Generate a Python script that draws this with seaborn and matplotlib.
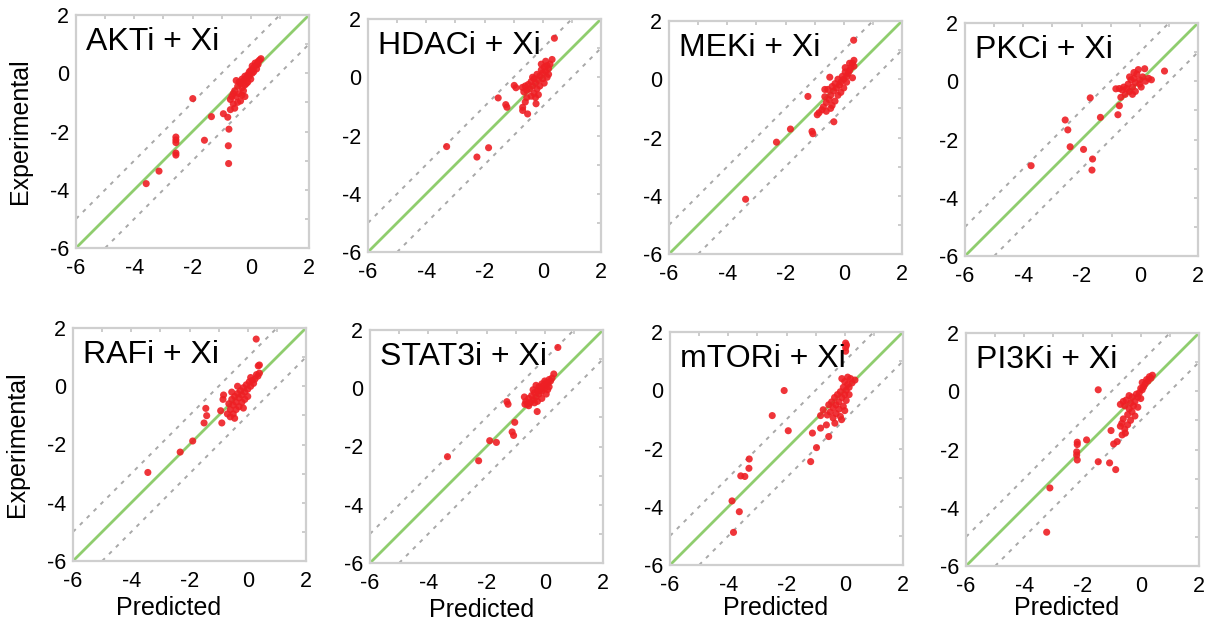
import numpy as np
import pandas as pd
import matplotlib
matplotlib.use("Agg")
import matplotlib.pyplot as plt
import seaborn as sns

# ---------------- data ----------------
titles = ["AKTi + Xi", "HDACi + Xi", "MEKi + Xi", "PKCi + Xi",
          "RAFi + Xi", "STAT3i + Xi", "mTORi + Xi", "PI3Ki + Xi"]

akt_x = [-3.59, -3.15, -2.57, -2.57, -2.57, -2.57, -2.57, -1.99, -1.59, -1.35, -0.94, -0.79, -0.75, -0.77, -0.76,
         0.35, 0.30, 0.25, 0.20, 0.15, 0.10, 0.05, 0.0, 0.05, -0.05, -0.10, -0.15, -0.20, -0.25, -0.30, -0.35,
         -0.40, -0.45, -0.50, -0.30, -0.20, -0.10, 0.0, -0.55, -0.60, -0.65, -0.70, -0.50, -0.40, -0.30, -0.25,
         -0.45, -0.60, -0.70, -0.55, -0.35, -0.20, 0.10, 0.20, -0.05, -0.15, 0.25]
akt_y = [-3.79, -3.36, -2.19, -2.29, -2.38, -2.74, -2.81, -0.87, -2.30, -1.49, -1.39, -1.51, -1.92, -2.49, -3.10,
         0.50, 0.45, 0.40, 0.30, 0.35, 0.20, 0.25, 0.10, 0.0, 0.05, -0.05, -0.15, -0.10, -0.25, -0.20, -0.35,
         -0.30, -0.45, -0.25, -0.50, -0.40, -0.30, -0.20, -0.60, -0.70, -0.80, -0.90, -0.80, -0.70, -0.75, -0.60,
         -1.00, -1.05, -1.25, -1.20, -0.95, -0.80, 0.05, 0.15, -0.10, -0.35, 0.30]

hdac_x = [0.40, 0.32, -3.30, -2.26, -1.86, -1.53, -1.27, -1.23, -0.98, -0.92, -0.52, -0.23, -0.69, -0.69,
          0.25, 0.20, 0.15, 0.10, 0.05, 0.0, -0.05, 0.0, -0.10, -0.15, -0.20, -0.25, -0.30, -0.35, -0.40, -0.45,
          -0.50, -0.55, -0.60, -0.65, -0.70, -0.20, -0.10, 0.05, 0.15, -0.30, -0.40, -0.55, -0.60, -0.15, -0.05,
          0.10, -0.35, 0.20, -0.25]
hdac_y = [1.34, 0.61, -2.38, -2.74, -2.42, -0.71, -0.94, -1.03, -0.28, -0.36, -1.26, -0.91, -1.03, -1.14,
          0.45, 0.30, 0.40, 0.20, 0.35, 0.15, 0.25, -0.05, 0.05, -0.10, 0.10, -0.20, -0.05, -0.30, -0.15, -0.40,
          -0.25, -0.45, -0.30, -0.50, -0.35, -0.40, -0.30, -0.20, 0.0, -0.55, -0.65, -0.70, -0.85, -0.60, 0.45,
          0.55, 0.00, 0.10, -0.70]

mek_x = [0.34, -3.37, -2.31, -1.83, -1.23, -1.09, -1.06, -0.48, -0.34, -0.91,
         0.35, 0.30, 0.35, 0.25, 0.20, 0.30, 0.15, 0.10, 0.05, 0.0, -0.05, -0.10, -0.15, -0.20, -0.25, -0.30,
         -0.35, -0.40, -0.45, -0.55, -0.50, -0.60, -0.65, -0.70, -0.75, -0.85, -0.60, -0.40, -0.30, -0.20, -0.10,
         0.0, 0.10, -0.45, -0.65, 0.20, 0.05]
mek_y = [1.34, -4.12, -2.16, -1.71, -0.59, -1.79, -1.87, 0.07, -1.46, -1.22,
         0.65, 0.55, 0.45, 0.40, 0.30, 0.05, 0.20, 0.10, 0.25, 0.0, 0.10, -0.10, -0.20, 0.0, -0.30, -0.15,
         -0.40, -0.25, -0.55, -0.35, -0.70, -0.80, -0.60, -0.95, -1.05, -1.15, -1.10, -0.90, -0.75, -0.55, -0.45,
         -0.30, -0.10, -1.00, -0.35, 0.55, 0.40]

pkc_x = [0.85, 0.17, -3.73, -2.56, -2.47, -2.39, -1.93, -1.62, -1.64, -1.70, -1.35, -0.75, -0.70, -0.82,
         0.40, 0.30, 0.20, 0.10, 0.0, 0.0, -0.10, -0.15, -0.20, -0.25, -0.30, -0.35, -0.40, -0.45, -0.50,
         -0.55, -0.60, -0.65, -0.25, -0.15, 0.05, -0.05, -0.20, -0.70, -0.35]
pkc_y = [0.35, 0.43, -2.90, -1.33, -1.67, -2.25, -2.34, -2.67, -3.05, -0.57, -1.24, -1.15, -0.84, -0.26,
         0.05, 0.10, 0.0, 0.15, 0.05, -0.10, 0.25, -0.05, 0.10, -0.20, 0.05, -0.35, -0.10, -0.25, -0.45,
         -0.20, -0.30, -0.55, -0.45, -0.35, -0.20, 0.40, 0.30, -0.25, 0.15]

raf_x = [0.29, 0.40, 0.36, -3.43, -2.32, -1.89, -1.44, -1.41, -1.50, -0.83, -0.85, -0.93, -0.89,
         0.40, 0.35, 0.30, 0.25, 0.20, 0.15, 0.10, 0.05, 0.0, -0.05, -0.10, -0.15, -0.20, -0.25, -0.30, -0.35,
         -0.40, -0.45, -0.50, -0.55, -0.60, -0.65, -0.70, -0.60, -0.50, -0.40, -0.30, -0.20, -0.10, 0.0, -0.45,
         -0.55, -0.35, 0.10, -0.15]
raf_y = [1.62, 0.73, 0.70, -2.96, -2.26, -1.88, -0.76, -1.01, -1.26, -0.30, -0.45, -0.84, -1.26,
         0.45, 0.35, 0.40, 0.25, 0.10, 0.20, 0.0, 0.15, -0.10, 0.05, -0.20, -0.05, -0.30, -0.15, -0.40, -0.25,
         -0.55, -0.35, -0.65, -0.45, -0.80, -0.60, -0.95, -1.05, -0.95, -0.80, -0.70, -0.55, -0.45, -0.35, -1.10,
         -0.20, 0.0, 0.30, -0.75]

stat_x = [0.45, 0.31, -3.34, -2.27, -1.89, -1.66, -1.12, -1.07, -1.03, -1.30, -1.26, -0.26, -0.68,
          0.25, 0.20, 0.15, 0.10, 0.05, 0.0, 0.0, -0.05, -0.10, -0.10, -0.15, -0.20, -0.20, -0.25, -0.30, -0.35,
          -0.40, -0.45, -0.50, -0.55, -0.60, -0.65, -0.70, -0.35, -0.25, -0.10, 0.05, 0.10, -0.40, -0.55, -0.30,
          0.15]
stat_y = [1.40, 0.49, -2.35, -2.49, -1.80, -1.86, -1.50, -1.62, -1.17, -0.46, -0.55, -0.80, -0.55,
          0.35, 0.25, 0.30, 0.15, 0.20, 0.0, 0.25, 0.10, -0.10, 0.15, -0.05, -0.20, 0.05, -0.10, -0.30, -0.15,
          -0.40, -0.25, -0.50, -0.35, -0.55, -0.45, -0.30, -0.50, -0.45, -0.35, -0.20, -0.05, -0.05, -0.60, 0.10,
          0.05]

mtor_x = [0.03, 0.03, 0.03, 0.06, -2.08, -2.49, -1.94, -3.28, -3.29, -3.57, -3.43, -3.87, -3.62, -3.82,
          -1.17, -0.97, -1.11, -0.83, -0.55, -0.83, -0.74, -0.63, -0.34, -0.11,
          0.35, 0.25, 0.20, 0.15, 0.10, 0.05, 0.0, 0.0, -0.05, -0.10, -0.15, -0.20, -0.25, -0.30, -0.35, -0.40,
          -0.45, -0.50, -0.55, -0.60, -0.30, -0.20, -0.05, 0.05, 0.15, -0.10, 0.10, -0.40, -0.15, 0.0]
mtor_y = [1.62, 1.47, 1.34, 1.55, -0.01, -0.87, -1.39, -2.36, -2.68, -2.94, -2.96, -3.80, -4.17, -4.88,
          -2.45, -1.97, -1.47, -1.30, -1.59, -0.87, -0.67, -1.19, -1.13, -1.01,
          0.35, 0.25, 0.40, 0.10, 0.20, 0.0, 0.30, -0.15, 0.10, -0.25, -0.05, -0.40, -0.15, -0.50, -0.25, -0.60,
          -0.40, -0.75, -0.50, -0.85, -0.80, -0.65, -0.55, -0.35, -0.15, 0.40, 0.45, -0.95, -0.90, -0.70]

pi3k_x = [-1.46, -3.23, -3.12, -2.18, -2.18, -2.20, -2.20, -2.18, -1.86, -1.46, -1.07, -0.86, -1.02, -0.93,
          -0.81, -0.64, -0.53,
          0.40, 0.35, 0.30, 0.25, 0.20, 0.15, 0.10, 0.05, 0.0, -0.05, -0.10, -0.15, -0.20, -0.25, -0.30, -0.35,
          -0.40, -0.45, -0.50, -0.55, -0.60, -0.65, -0.70, -0.55, -0.45, -0.35, -0.20, -0.10, 0.0, -0.60, -0.70,
          -0.30, 0.05, -0.40]
pi3k_y = [0.05, -4.84, -3.32, -1.75, -1.83, -2.08, -2.19, -2.36, -1.67, -2.42, -2.46, -2.69, -1.35, -1.81,
          -1.73, -1.50, -1.44,
          0.55, 0.45, 0.50, 0.35, 0.40, 0.25, 0.15, 0.05, 0.10, -0.05, -0.20, -0.10, -0.35, -0.50, -0.70, -0.40,
          -0.60, -0.80, -0.30, -0.50, -0.95, -1.10, -1.20, -1.30, -1.15, -1.00, -0.85, -0.55, -0.25, -0.35, -0.45,
          -0.20, 0.30, -0.15]

xs = [akt_x, hdac_x, mek_x, pkc_x, raf_x, stat_x, mtor_x, pi3k_x]
ys = [akt_y, hdac_y, mek_y, pkc_y, raf_y, stat_y, mtor_y, pi3k_y]

ticks = [-6, -4, -2, 0, 2]
tick_labels = ["-6", "-4", "-2", "0", "2"]

# ---------------- layout (pixels: left, top) ----------------
W, H = 1205, 622
lefts = [76, 368, 669, 965, 73, 370, 670, 966]
tops = [15, 19, 21, 23, 328, 330, 332, 333]
aw, ah = 233, 233
xlab_pos = [0.41, 0.48, 0.455, 0.43]
xlab_y = [-0.15, -0.15, -0.135, -0.13]

sns.set_style("white")
plt.rcParams["font.family"] = ["Liberation Sans", "DejaVu Sans"]
plt.rcParams["axes.unicode_minus"] = False

fig = plt.figure(figsize=(W / 100, H / 100), dpi=100)

red = "#ee1f24"
green = "#8fcd6e"
grey = "#a8a8a8"

for i in range(8):
    l, t = lefts[i], tops[i]
    ax = fig.add_axes([l / W, 1 - (t + ah) / H, aw / W, ah / H])
    df = pd.DataFrame({"Predicted": xs[i], "Experimental": ys[i]})
    ax.axline((0, 0), slope=1, color=green, lw=2.0, zorder=2)
    ax.axline((0, 1), slope=1, color=grey, lw=1.4, ls=(0, (2, 3)), zorder=1)
    ax.axline((0, -1), slope=1, color=grey, lw=1.4, ls=(0, (2, 3)), zorder=1)
    sns.scatterplot(data=df, x="Predicted", y="Experimental", ax=ax, color=red,
                    s=26, edgecolor="none", alpha=0.9, zorder=3)
    ax.set_xlim(-6, 2)
    ax.set_ylim(-6, 2)
    ax.set_xticks(ticks)
    ax.set_yticks(ticks)
    ax.set_xticklabels(tick_labels)
    ax.set_yticklabels(tick_labels)
    ax.set_xticks(np.arange(-5, 2, 2), minor=True)
    ax.set_yticks(np.arange(-5, 2, 2), minor=True)
    ax.tick_params(which="both", direction="in", length=3, width=1.2, color="#c4c4c4",
                   top=True, right=True, labelsize=15.5, labelcolor="black")
    ax.tick_params(axis="x", pad=7)
    ax.tick_params(axis="y", pad=5)
    for sp in ax.spines.values():
        sp.set_color("#cfcfcf")
        sp.set_linewidth(1.6)
    ax.text(0.045, 0.885, titles[i], transform=ax.transAxes, fontsize=23,
            ha="left", va="center", color="black")
    if i % 4 == 0:
        ax.set_ylabel("Experimental", fontsize=18, color="black")
        ax.yaxis.set_label_coords(-0.19, 0.5)
    else:
        ax.set_ylabel("")
    if i >= 4:
        ax.set_xlabel("Predicted", fontsize=18, color="black")
        ax.xaxis.set_label_coords(xlab_pos[i - 4], xlab_y[i - 4])
    else:
        ax.set_xlabel("")

fig.savefig("out.png", dpi=100, facecolor="white")
